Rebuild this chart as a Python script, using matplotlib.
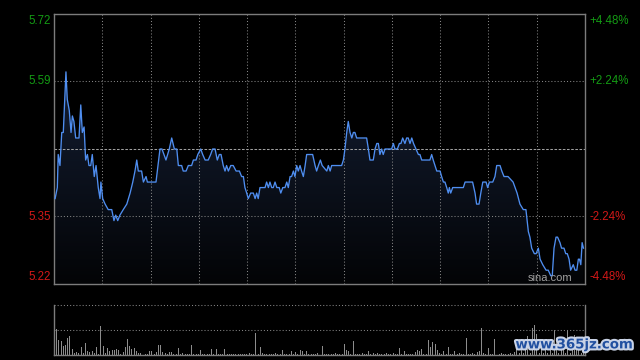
import numpy as np
import matplotlib
matplotlib.use("Agg")
import matplotlib.pyplot as plt
import matplotlib.patheffects as pe
from matplotlib.colors import LinearSegmentedColormap

plt.rcParams['font.family'] = ['Liberation Sans', 'DejaVu Sans']

prev_close = 5.47
price_labels = ["5.72", "5.59", "5.35", "5.22"]
pct_labels = ["+4.48%", "+2.24%", "-2.24%", "-4.48%"]

# minute of the session (0..240) and last price
minutes = [0.5, 1.5, 1.9, 2.7, 3.5, 4.2, 5.4, 6.0, 6.9, 7.7, 8.3, 9.0, 9.8, 11.3, 12.1,
           12.8, 13.6, 14.3, 15.1, 15.8, 16.6, 17.3, 18.2, 19.0, 20.0, 20.8, 21.2, 22.0,
           23.1, 24.5, 26.1, 27.1, 27.9, 28.8, 29.8, 31.3, 32.9, 34.4, 35.6, 36.6, 37.4,
           38.1, 39.6, 40.4, 41.6, 42.2, 46.1, 47.9, 48.8, 50.6, 52.1, 53.2, 54.4, 55.5,
           56.2, 57.7, 58.4, 59.7, 60.7, 62.2, 63.0, 64.2, 65.0, 66.3, 67.2, 68.3, 69.7,
           70.8, 71.7, 72.8, 73.8, 74.7, 75.5, 76.5, 77.3, 78.0, 78.8, 79.9, 81.0, 82.3,
           83.8, 84.8, 85.6, 86.3, 87.1, 87.8, 88.9, 90.1, 90.9, 91.6, 92.3, 93.1, 95.4,
           96.1, 96.9, 97.6, 98.4, 99.1, 99.9, 100.7, 101.8, 102.5, 103.4, 104.4, 105.2,
           105.9, 106.7, 107.4, 108.2, 108.9, 109.7, 110.4, 111.2, 111.9, 112.7, 113.5,
           114.2, 116.9, 118.0, 118.7, 119.5, 120.4, 121.2, 123.3, 124.0, 124.8, 125.5,
           130.0, 130.8, 131.5, 132.3, 133.0, 133.8, 134.6, 135.3, 136.0, 136.8, 141.3,
           142.1, 142.8, 144.3, 145.1, 145.9, 146.6, 147.3, 148.1, 148.8, 149.6, 152.6,
           153.4, 154.1, 155.2, 156.1, 156.8, 157.6, 158.6, 159.4, 160.1, 160.9, 161.7,
           162.5, 163.6, 164.7, 165.4, 166.2, 169.9, 170.7, 171.4, 173.0, 174.5, 175.2,
           176.0, 176.7, 177.5, 178.2, 178.7, 179.3, 180.2, 185.0, 185.8, 189.2, 190.3,
           191.0, 192.1, 192.9, 193.8, 195.3, 196.0, 196.8, 198.3, 199.3, 200.1, 201.6,
           202.4, 203.4, 205.2, 207.5, 209.3, 210.6, 212.1, 213.3, 214.4, 215.1, 215.9,
           217.1, 217.9, 218.9, 219.7, 220.9, 222.4, 223.4, 224.5, 225.2, 226.0, 226.9,
           227.6, 228.7, 229.4, 230.5, 231.3, 232.0, 232.8, 233.5, 234.7, 235.5, 236.3,
           237.0, 237.5, 238.1, 238.7, 239.3]
prices = [5.38, 5.40, 5.46, 5.44, 5.50, 5.50, 5.61, 5.56, 5.54, 5.50, 5.53, 5.52, 5.49, 5.49, 5.55,
          5.50, 5.51, 5.45, 5.46, 5.44, 5.44, 5.46, 5.42, 5.44, 5.40, 5.38, 5.41, 5.38,
          5.37, 5.36, 5.36, 5.34, 5.35, 5.34, 5.35, 5.36, 5.37, 5.39, 5.41, 5.43, 5.45,
          5.43, 5.43, 5.41, 5.42, 5.41, 5.41, 5.47, 5.47, 5.45, 5.47, 5.49, 5.47, 5.47,
          5.44, 5.44, 5.43, 5.43, 5.44, 5.44, 5.45, 5.45, 5.46, 5.47, 5.46, 5.45, 5.45,
          5.46, 5.47, 5.47, 5.45, 5.46, 5.46, 5.44, 5.43, 5.44, 5.43, 5.44, 5.44, 5.43,
          5.43, 5.42, 5.42, 5.40, 5.39, 5.38, 5.39, 5.39, 5.38, 5.39, 5.38, 5.40, 5.40,
          5.41, 5.40, 5.41, 5.40, 5.40, 5.41, 5.40, 5.40, 5.39, 5.40, 5.40, 5.41,
          5.40, 5.42, 5.42, 5.43, 5.42, 5.44, 5.43, 5.44, 5.43, 5.42, 5.44,
          5.46, 5.46, 5.44, 5.43, 5.44, 5.45, 5.44, 5.43, 5.44, 5.43, 5.44,
          5.44, 5.45, 5.47, 5.50, 5.52, 5.50, 5.49, 5.50, 5.50, 5.49, 5.49,
          5.47, 5.45, 5.45, 5.47, 5.48, 5.48, 5.46, 5.47, 5.46, 5.47, 5.47,
          5.48, 5.47, 5.47, 5.48, 5.48, 5.49, 5.48, 5.49, 5.49, 5.48, 5.49,
          5.48, 5.47, 5.46, 5.46, 5.45, 5.45, 5.46, 5.45, 5.43, 5.43, 5.42,
          5.41, 5.41, 5.40, 5.39, 5.40, 5.39, 5.40, 5.40, 5.41, 5.41, 5.39,
          5.37, 5.37, 5.39, 5.41, 5.41, 5.40, 5.41, 5.41, 5.42, 5.44, 5.44,
          5.43, 5.42, 5.42, 5.41, 5.39, 5.37, 5.36, 5.36, 5.32, 5.31, 5.29,
          5.28, 5.28, 5.29, 5.27, 5.26, 5.25, 5.25, 5.24, 5.24, 5.29, 5.31,
          5.31, 5.30, 5.29, 5.29, 5.28, 5.28, 5.27, 5.25, 5.26, 5.25, 5.25,
          5.27, 5.27, 5.26, 5.30, 5.29]

# volume per minute, relative to the tallest bar
volume = [.99, .52, .30, .29, .19, .21, .35, .39, .12, .05,
          .06, .05, .17, .05, .25, .09, .07, .09, .05, .17,
          .03, .59, .19, .04, .14, .09, .10, .11, .12, .10,
          .03, .07, .17, .32, .19, .12, .14, .09, .05, .05,
          .03, .02, .02, .09, .09, .03, .07, .21, .21, .07,
          .05, .02, .07, .07, .03, .02, .14, .03, .05, .02,
          .03, .03, .21, .03, .02, .02, .10, .03, .02, .03,
          .03, .12, .02, .12, .02, .02, .02, .12, .02, .02,
          .02, .03, .02, .02, .03, .03, .02, .02, .05, .02,
          .02, .44, .02, .17, .05, .02, .02, .02, .02, .02,
          .05, .02, .02, .10, .02, .02, .02, .09, .02, .07,
          .02, .10, .09, .02, .09, .02, .02, .02, .03, .05,
          .02, .19, .02, .02, .02, .02, .02, .05, .02, .02,
          .02, .22, .10, .09, .02, .29, .02, .03, .02, .05,
          .03, .02, .09, .02, .05, .02, .05, .02, .02, .02,
          .05, .03, .02, .05, .02, .02, .14, .02, .09, .02,
          .03, .02, .03, .07, .11, .09, .12, .02, .02, .30,
          .17, .27, .22, .10, .05, .02, .09, .02, .17, .02,
          .03, .09, .02, .05, .02, .02, .35, .02, .02, .05,
          .02, .07, .09, .55, .05, .02, .14, .03, .02, .32,
          .07, .02, .05, .03, .02, .03, .05, .02, .07, .12,
          .05, .22, .05, .29, .39, .05, .55, .61, .43, .05,
          .29, .05, .22, .05, .19, .05, .50, .35, .05, .25,
          .19, .05, .50, .05, .29, .41, .22, .15, .05, .12,
          .65]

lo = prev_close * (1 - 0.0448)
hi = prev_close * (1 + 0.0448)
green = '#149a14'
red = '#d21818'
frame = '#7c7c7c'
grid = '#858585'

fig = plt.figure(figsize=(6.4, 3.6), dpi=100, facecolor='black')
ax = fig.add_axes([54 / 640, 76 / 360, 531 / 640, 270 / 360], facecolor='black')
vax = fig.add_axes([54 / 640, 5 / 360, 531 / 640, 50 / 360], facecolor='black')

# price line with a dark gradient under it
fill = ax.fill_between(minutes, prices, lo, color='none', lw=0)
cmap = LinearSegmentedColormap.from_list('under', ['#030406', '#141e33'])
grad = np.linspace(0, 1, 256).reshape(-1, 1)
img = ax.imshow(grad, extent=[0, 240, lo, max(prices)], origin='lower',
                aspect='auto', cmap=cmap, zorder=1)
img.set_clip_path(fill.get_paths()[0], transform=ax.transData)
ax.plot(minutes, prices, color='#4f8ef0', lw=0.95, zorder=3)

ax.set_xlim(0, 240)
ax.set_ylim(lo, hi)
for k in range(1, 11):
    ax.axvline(240 * k / 11, color=grid, lw=0.75, ls=(0, (1, 2)), zorder=2)
for q in (0.25, 0.75):
    ax.axhline(lo + (hi - lo) * q, color=grid, lw=0.75, ls=(0, (1, 2)), zorder=2)
ax.axhline(prev_close, color='#a0a0a0', lw=0.75, ls=(0, (2.5, 1.5)), zorder=2)

ax.set_xticks([])
ax.set_yticks([])
for s in ax.spines.values():
    s.set_color(frame)
    s.set_linewidth(1.0)

# axis labels
label_pos = [(1.0, 'top'), (0.75, 'center'), (0.25, 'center'), (0.0, 'bottom')]
for i, (frac, va) in enumerate(label_pos):
    col = green if i < 2 else red
    yy = frac - 0.004 if frac == 1.0 else (frac + 0.004 if frac == 0.0 else frac)
    ax.text(-0.006, yy, price_labels[i], transform=ax.transAxes, ha='right', va=va,
            color=col, fontsize=8.3)
    ax.text(1.009, yy, pct_labels[i], transform=ax.transAxes, ha='left', va=va,
            color=col, fontsize=8.3)

ax.text(0.977, 0.004, 'sina.com', transform=ax.transAxes, ha='right', va='bottom',
        color='#a0a0a0', fontsize=8, zorder=4)

# volume panel
vax.bar(range(len(volume)), volume, width=0.45, align='edge', color='#8c8c8c', lw=0)
vax.set_xlim(0, 240)
vax.set_ylim(0, 1.0)
vax.axhline(0.5, color=grid, lw=0.75, ls=(0, (1, 2)))
vax.axhline(1.0, color=grid, lw=0.75, ls=(0, (1, 2)), clip_on=False)
vax.set_xticks([])
vax.set_yticks([])
vax.spines['top'].set_visible(False)
for side in ('left', 'right', 'bottom'):
    vax.spines[side].set_color(frame)
    vax.spines[side].set_linewidth(1.0)

fig.text(0.990, 0.042, 'www.365jz.com', ha='right', va='center', color='#2150a0',
         fontsize=9.6, fontweight='bold', family=['DejaVu Sans'],
         path_effects=[pe.Stroke(linewidth=3, foreground='#c9d3e6'), pe.Normal()])

fig.savefig('out.png', dpi=100, facecolor='black')
